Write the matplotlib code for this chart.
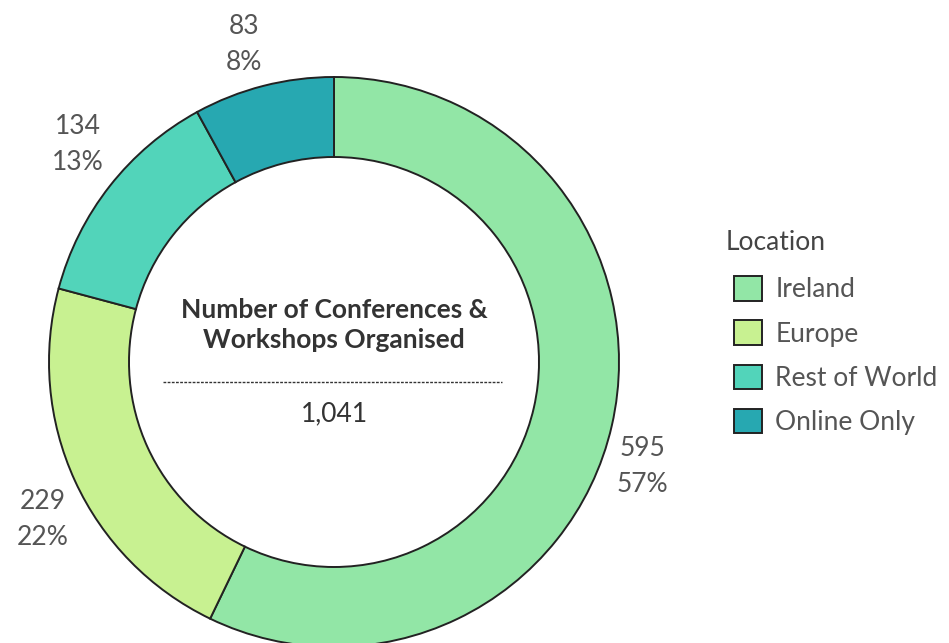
import numpy as np
import matplotlib
matplotlib.use("Agg")
import matplotlib.pyplot as plt
from matplotlib.patches import Patch

# data
locations = ["Ireland", "Europe", "Rest of World", "Online Only"]
counts = [595, 229, 134, 83]
colors = ["#92E6A6", "#C8F191", "#52D4BA", "#27A8B1"]
center_title = "Number of Conferences &\nWorkshops Organised"
legend_title = "Location"

# small nudges (px) for the outside labels, Tableau-style placement
label_nudge = [(-11, -31), (7, -21), (2, 15), (-9, 0)]

plt.rcParams["font.family"] = ["Lato", "DejaVu Sans"]

W, H = 949, 643
fig = plt.figure(figsize=(W / 100, H / 100), dpi=100)
ax = fig.add_axes([0, 0, 1, 1])

cx, cy = 334, H - 362
radius = 285
ring = 80
fs = 19

wedges, _ = ax.pie(counts, colors=colors, startangle=90, counterclock=False,
                   center=(cx, cy), radius=radius,
                   wedgeprops=dict(width=ring, edgecolor="#222222", linewidth=1.4))
ax.set_xlim(0, W)
ax.set_ylim(0, H)
ax.set_aspect("auto")
ax.axis("off")

total = sum(counts)

# value / percent labels outside the ring
for w, n, (dx, dy) in zip(wedges, counts, label_nudge):
    mid = np.deg2rad((w.theta1 + w.theta2) / 2)
    d = radius * 1.15
    x = cx + d * np.cos(mid) + dx
    y = cy + d * np.sin(mid) + dy
    ax.text(x, y, f"{n}\n{n / total:.0%}", ha="center", va="center",
            fontsize=fs, color="#555555", linespacing=1.55)

# centre text
ax.text(cx, cy + 37, center_title, ha="center", va="center", fontsize=fs,
        fontweight="bold", color="#333333", linespacing=1.3)
ax.plot([cx - 171, cx + 168], [cy - 20, cy - 20], color="#333333", lw=1,
        linestyle=(0, (2, 1)))
ax.text(cx, cy - 52, f"{total:,}", ha="center", va="center", fontsize=fs,
        color="#333333")

# legend
ax.text(726, H - 243, legend_title, ha="left", va="center", fontsize=fs,
        color="#444444")
handles = [Patch(facecolor=c, edgecolor="#222222", linewidth=1.4) for c in colors]
leg = ax.legend(handles, locations, loc="upper left",
                bbox_to_anchor=(734 / W, 1 - 276 / H), frameon=False,
                borderpad=0, borderaxespad=0,
                fontsize=fs, handlelength=1.06, handleheight=1.06,
                labelspacing=0.68, handletextpad=0.5)
for t in leg.get_texts():
    t.set_color("#555555")

fig.savefig("out.png", dpi=100)
